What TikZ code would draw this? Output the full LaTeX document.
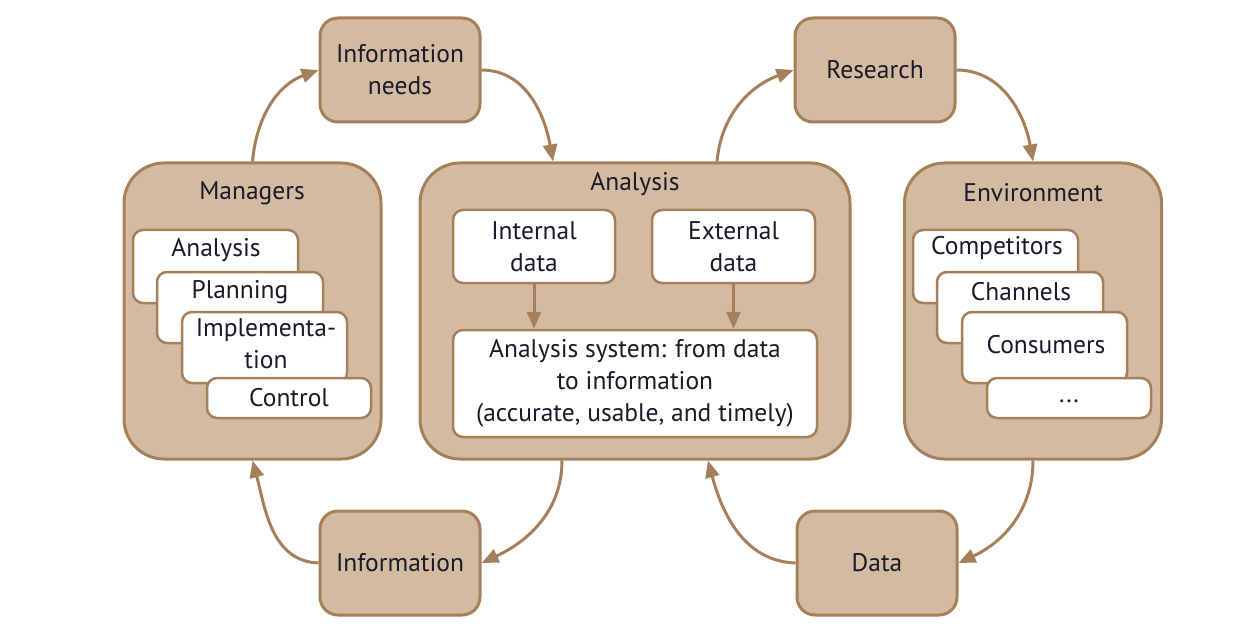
\documentclass[tikz,border=0pt]{standalone}
\usepackage{fontspec}
\setmainfont{PT Sans}
\usetikzlibrary{arrows.meta,calc}
\definecolor{tanfill}{HTML}{D3BBA1}
\definecolor{brownline}{HTML}{A67F5B}
\definecolor{txt}{HTML}{1A1A2A}
\begin{document}
\begin{tikzpicture}[x=1pt,y=-1pt,
  every node/.style={text=txt, font=\fontsize{25.5}{32}\selectfont},
  bigbox/.style={draw=brownline, fill=tanfill, line width=3pt, rounded corners=40pt},
  smallbox/.style={draw=brownline, fill=tanfill, line width=3pt, rounded corners=18pt,
    minimum width=160pt, minimum height=104pt, align=center},
  whitebox/.style={draw=brownline, fill=white, line width=2.5pt, rounded corners=10pt},
  flow/.style={draw=brownline, line width=3pt, -{Triangle[length=17pt,width=14pt]}},
  lbl/.style={align=center, inner sep=0pt}
]
\useasboundingbox (0,0) rectangle (1246,636);

% big boxes
\node[bigbox, minimum width=257pt, minimum height=296pt] (mgr) at (252.5,311) {};
\node[bigbox, minimum width=430pt, minimum height=296pt] (ana) at (635,311) {};
\node[bigbox, minimum width=257pt, minimum height=296pt] (env) at (1033,311) {};

% small boxes
\node[smallbox] (needs) at (400,70) {Information\\needs};
\node[smallbox] (res) at (875,70) {Research};
\node[smallbox] (info) at (400,563) {Information};
\node[smallbox] (data) at (877,563) {Data};

% titles
\node[lbl] (mgrT) at (252,193) {Managers};
\node[lbl] (anaT) at (635,184) {Analysis};
\node[lbl] (envT) at (1033,193) {Environment};

% managers stack
\node[whitebox, minimum width=165pt, minimum height=73pt] (m1) at (215.5,266.5) {};
\node[lbl] (m1t) at (216,250) {Analysis};
\node[whitebox, minimum width=166pt, minimum height=71pt] (m2) at (240,307.5) {};
\node[lbl] (m2t) at (240,292) {Planning};
\node[whitebox, minimum width=165pt, minimum height=71pt] (m3) at (264.5,347.5) {};
\node[lbl] (m3t) at (266,344) {Implementa-\\tion};
\node[whitebox, minimum width=164pt, minimum height=40pt] (m4) at (289,398) {};
\node[lbl] (m4t) at (289,398) {Control};

% environment stack
\node[whitebox, minimum width=165pt, minimum height=73pt] (e1) at (995.5,266.5) {};
\node[lbl] (e1t) at (997,248) {Competitors};
\node[whitebox, minimum width=166pt, minimum height=71pt] (e2) at (1020,307.5) {};
\node[lbl] (e2t) at (1021,292) {Channels};
\node[whitebox, minimum width=165pt, minimum height=71pt] (e3) at (1044.5,347.5) {};
\node[lbl] (e3t) at (1046,345) {Consumers};
\node[whitebox, minimum width=164pt, minimum height=40pt] (e4) at (1069,398) {};
\node[lbl] (e4t) at (1069,401) {...};

% analysis inner
\node[whitebox, minimum width=162pt, minimum height=73pt, align=center] (int) at (534,246.5) {Internal\\data};
\node[whitebox, minimum width=163pt, minimum height=73pt, align=center] (ext) at (733.5,246.5) {External\\data};
\node[whitebox, minimum width=364pt, minimum height=107pt, align=center] (sys) at (635,383.5)
  {Analysis system: from data\\to information\\(accurate, usable, and timely)};

\draw[flow] (int.south) -- (int.south |- sys.north);
\draw[flow] (ext.south) -- (ext.south |- sys.north);

% cycle arrows
\draw[flow] (mgr.north) to[out=85,in=200] (needs.west);
\draw[flow] (needs.east) to[out=0,in=100] ($(ana.north)+(-82,0)$);
\draw[flow] ($(ana.north)+(82,0)$) to[out=85,in=200] (res.west);
\draw[flow] (res.east) to[out=0,in=100] (env.north);
\draw[flow] (env.south) to[out=-90,in=25] (data.east);
\draw[flow] (data.west) to[out=178,in=-75] ($(ana.south)+(73,0)$);
\draw[flow] ($(ana.south)+(-73,0)$) to[out=-90,in=25] (info.east);
\draw[flow] (info.west) to[out=178,in=-75] (mgr.south);
\end{tikzpicture}
\end{document}
